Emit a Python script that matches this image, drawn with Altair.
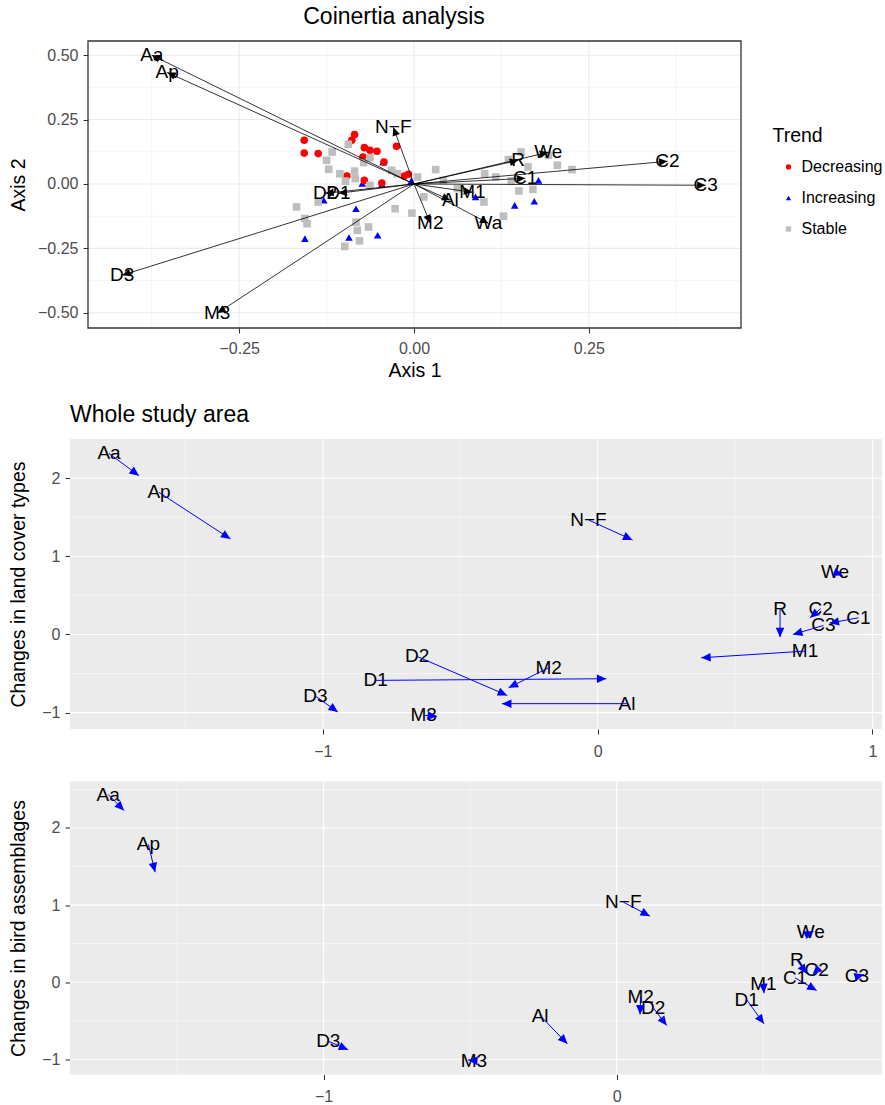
import math
import altair as alt
import pandas as pd

FONT = "Liberation Sans"
ARROW = "M0,0L-0.9,2L0.9,2Z"   # arrowhead with its tip at the data point

# ---------------- panel 1: coinertia analysis ----------------
var_labels = ["Aa", "Ap", "N\u2212F", "D1", "D2", "D3", "M3", "M2", "Al", "M1", "Wa", "R", "We", "C1", "C2", "C3"]
var_x = [-0.375, -0.353, -0.0296, -0.108, -0.127, -0.4175, -0.2815, 0.0233, 0.052, 0.0834, 0.1063, 0.149, 0.192, 0.159, 0.3625, 0.417]
var_y = [0.500, 0.433, 0.220, -0.036, -0.036, -0.354, -0.502, -0.1525, -0.063, -0.032, -0.1525, 0.092, 0.123, 0.022, 0.088, -0.005]

trend_levels = ["Decreasing", "Increasing", "Stable"]
trend_colors = ["#FF0000", "#0000FF", "#BEBEBE"]
trend_shapes = ["circle", "triangle-up", "square"]

dec_x = [-0.157, -0.157, -0.137, -0.085, -0.089, -0.071, -0.063, -0.053, -0.073, -0.043, -0.025, -0.096, -0.071, -0.046, -0.014, -0.008]
dec_y = [0.170, 0.120, 0.118, 0.192, 0.170, 0.141, 0.131, 0.127, 0.105, 0.085, 0.146, 0.031, 0.014, 0.004, 0.031, 0.038]
inc_x = [-0.044, -0.074, -0.046, -0.129, -0.083, -0.156, -0.093, -0.052, -0.004, 0.088, 0.144, 0.172, 0.178]
inc_y = [0.085, 0.002, -0.001, -0.063, -0.096, -0.212, -0.208, -0.199, 0.012, -0.050, -0.083, -0.067, 0.014]
sta_x = [-0.094, -0.117, -0.125, -0.122, -0.106, -0.085, -0.098, -0.084, -0.063, -0.063, -0.072, -0.032, -0.024, 0.005,
         -0.168, -0.156, -0.153, -0.137, -0.027, -0.003, -0.083, -0.081, -0.065, -0.078, -0.099, 0.014, 0.031, 0.042,
         0.101, 0.117, 0.128, 0.100, 0.135, 0.153, 0.163, 0.150, 0.170, 0.192, 0.205, 0.226, 0.139, 0.062]
sta_y = [0.154, 0.124, 0.092, 0.057, 0.040, 0.050, 0.011, 0.021, -0.005, 0.102, 0.083, 0.053, 0.040, 0.027,
         -0.089, -0.134, -0.154, -0.070, -0.096, -0.113, -0.148, -0.180, -0.167, -0.221, -0.242, -0.050, 0.056, 0.014,
         0.040, 0.027, -0.125, -0.070, 0.095, 0.124, 0.066, -0.027, -0.021, 0.111, 0.073, 0.056, 0.012, -0.018]

P1_X = [-0.4662, 0.4676]
P1_Y = [-0.559, 0.555]
P1_XTICKS = [-0.25, 0, 0.25]
P1_YTICKS = [-0.5, -0.25, 0, 0.25, 0.5]
P1_XMINOR = [-0.375, -0.125, 0.125, 0.375]
P1_YMINOR = [-0.375, -0.125, 0.125, 0.375]

# ---------------- panel 2: land cover changes ----------------
lc_labels = ["Aa", "Ap", "D2", "D1", "D3", "M3", "M2", "Al", "N\u2212F", "We", "R", "C2", "C1", "C3", "M1"]
lc_x0 = [-1.778, -1.596, -0.657, -0.808, -1.027, -0.633, -0.178, 0.107, -0.033, 0.864, 0.664, 0.812, 0.949, 0.822, 0.755]
lc_y0 = [2.315, 1.817, -0.281, -0.587, -0.788, -1.034, -0.426, -0.885, 1.465, 0.796, 0.328, 0.330, 0.213, 0.115, -0.213]
lc_x1 = [-1.669, -1.336, -0.329, 0.032, -0.945, -0.584, -0.324, -0.348, 0.127, 0.892, 0.664, 0.773, 0.844, 0.711, 0.377]
lc_y1 = [2.031, 1.222, -0.779, -0.566, -0.992, -1.047, -0.681, -0.885, 1.209, 0.753, -0.034, 0.213, 0.145, 0.000, -0.298]

P2_X = [-1.920, 1.035]
P2_Y = [-1.209, 2.50]
P2_XMINOR = [-1.5, -0.5, 0.5]
P2_YMINOR = [-0.5, 0.5, 1.5]

# ---------------- panel 3: bird assemblage changes ----------------
ba_labels = ["Aa", "Ap", "D3", "M3", "Al", "N\u2212F", "M2", "D2", "D1", "M1", "We", "R", "C2", "C1", "C3"]
ba_x0 = [-1.735, -1.598, -0.984, -0.487, -0.261, 0.023, 0.082, 0.125, 0.444, 0.501, 0.663, 0.615, 0.683, 0.609, 0.820]
ba_y0 = [2.434, 1.786, -0.765, -1.016, -0.432, 1.038, -0.195, -0.332, -0.228, -0.021, 0.645, 0.290, 0.152, 0.057, 0.074]
ba_x1 = [-1.681, -1.575, -0.916, -0.507, -0.168, 0.114, 0.080, 0.171, 0.503, 0.503, 0.672, 0.649, 0.669, 0.683, 0.844]
ba_y1 = [2.227, 1.427, -0.877, -1.009, -0.799, 0.856, -0.419, -0.562, -0.540, -0.143, 0.660, 0.109, 0.100, -0.108, 0.100]

P3_X = [-1.8655, 0.9058]
P3_Y = [-1.197, 2.603]
P3_XMINOR = [-1.5, -0.5, 0.5]
P3_YMINOR = [-0.5, 0.5, 1.5, 2.5]

P23_XTICKS = [-1, 0, 1]
P23_YTICKS = [-1, 0, 1, 2]

# ---------------- layout ----------------
CANVAS_W, CANVAS_H = 885, 1105
LEFT, TOP = 70, 41
P1_W, P1_H, P1_INSET = 671, 287, 18
P2_W, P2_H = 812, 290
P3_W, P3_H = 812, 293
SPACING_OUT = 23
SPACING_IN = 19.5
YTITLE_X = 18.5
LEG_X, LEG_Y = 772.5, 127

GRID_MAJ, GRID_MIN = 1.07, 0.53


def head_angles(x0, y0, x1, y1, kx, ky):
    return [math.degrees(math.atan2((b - a) * kx, (d - c) * ky)) % 360
            for a, c, b, d in zip(x0, y0, x1, y1)]


ANG = lambda: alt.Angle("ang", type="quantitative", scale=alt.Scale(domain=[0, 360], range=[0, 360]))

# ---------------- panel 1 chart ----------------
kx1 = (P1_W - P1_INSET) / (P1_X[1] - P1_X[0])
ky1 = P1_H / (P1_Y[1] - P1_Y[0])
df_var = pd.DataFrame({"label": var_labels, "x": var_x, "y": var_y})
df_var["x0"] = 0.0
df_var["y0"] = 0.0
df_var["ang"] = head_angles(df_var["x0"], df_var["y0"], df_var["x"], df_var["y"], kx1, ky1)

df_pts = pd.concat([
    pd.DataFrame({"x": inc_x, "y": inc_y, "Trend": "Increasing"}),
    pd.DataFrame({"x": dec_x, "y": dec_y, "Trend": "Decreasing"}),
    pd.DataFrame({"x": sta_x, "y": sta_y, "Trend": "Stable"}),
], ignore_index=True)

sc1x = alt.Scale(domain=P1_X, range=[P1_INSET, P1_W], nice=False, zero=False)
sc1y = alt.Scale(domain=P1_Y, nice=False, zero=False)
ax1x = alt.Axis(title="Axis 1", values=P1_XTICKS, format=".2f", grid=False, domain=False,
                labelPadding=7, titleX=(P1_INSET + P1_W) / 2, titleY=42, titleBaseline="middle")
ax1y = alt.Axis(title="Axis 2", values=P1_YTICKS, format=".2f", grid=False, domain=False,
                offset=-P1_INSET, labelPadding=5, titleX=YTITLE_X - (LEFT + P1_INSET),
                titleY=P1_H / 2, titleBaseline="middle")


def X1(f):
    return alt.X(f, type="quantitative", scale=sc1x, axis=ax1x)


def Y1(f):
    return alt.Y(f, type="quantitative", scale=sc1y, axis=ax1y)


leg = alt.Legend(title="Trend", orient="none", legendX=LEG_X - LEFT, legendY=LEG_Y - TOP, padding=0,
                 titleFontSize=19.5, titleFont=FONT, titleColor="black", titleFontWeight="normal",
                 labelFontSize=16, labelFont=FONT, labelColor="black", symbolSize=28,
                 symbolOffset=8, labelOffset=5, rowPadding=15, titlePadding=12.5, symbolStrokeWidth=0)

g1_vmaj = alt.Chart(pd.DataFrame({"v": P1_XTICKS})).mark_rule(color="#EBEBEB", strokeWidth=GRID_MAJ).encode(
    x=X1("v"), y=alt.value(0), y2=alt.value("height"))
g1_vmin = alt.Chart(pd.DataFrame({"v": P1_XMINOR})).mark_rule(color="#EBEBEB", strokeWidth=GRID_MIN).encode(
    x=X1("v"), y=alt.value(0), y2=alt.value("height"))
g1_hmaj = alt.Chart(pd.DataFrame({"v": P1_YTICKS})).mark_rule(color="#EBEBEB", strokeWidth=GRID_MAJ).encode(
    y=Y1("v"), x=alt.value(P1_INSET), x2=alt.value("width"))
g1_hmin = alt.Chart(pd.DataFrame({"v": P1_YMINOR})).mark_rule(color="#EBEBEB", strokeWidth=GRID_MIN).encode(
    y=Y1("v"), x=alt.value(P1_INSET), x2=alt.value("width"))

pts = alt.Chart(df_pts).mark_point(filled=True, size=58, opacity=1, strokeWidth=0).encode(
    x=X1("x"), y=Y1("y"),
    color=alt.Color("Trend:N", scale=alt.Scale(domain=trend_levels, range=trend_colors), legend=leg),
    shape=alt.Shape("Trend:N", scale=alt.Scale(domain=trend_levels, range=trend_shapes), legend=leg),
)
v_lines = alt.Chart(df_var).mark_rule(color="black", strokeWidth=0.8).encode(
    x=X1("x0"), y=Y1("y0"), x2="x", y2="y")
v_text = alt.Chart(df_var).mark_text(font=FONT, fontSize=19, color="black", baseline="middle",
                                     align="center").encode(x=X1("x"), y=Y1("y"), text="label")
v_heads = alt.Chart(df_var).mark_point(shape=ARROW, filled=True, size=72, color="black", opacity=1,
                                       strokeWidth=0).encode(x=X1("x"), y=Y1("y"), angle=ANG())
border = alt.Chart(pd.DataFrame({"k": [0]})).mark_rect(fillOpacity=0, stroke="#333333", strokeWidth=1.3).encode(
    x=alt.value(P1_INSET), x2=alt.value("width"), y=alt.value(0), y2=alt.value("height"))

p1 = alt.layer(g1_vmaj, g1_vmin, g1_hmaj, g1_hmin, pts, v_lines, v_text, v_heads, border).properties(
    width=P1_W, height=P1_H,
    title=alt.TitleParams("Coinertia analysis", anchor="middle", frame="group", dx=-11.5, offset=11,
                          fontSize=23, font=FONT, fontWeight="normal", color="black"),
)


# ---------------- panels 2 and 3 ----------------
def arrow_panel(labels, x0, y0, x1, y1, xdom, ydom, w, h, xminor, yminor, ytitle, title=None):
    kx = w / (xdom[1] - xdom[0])
    ky = h / (ydom[1] - ydom[0])
    df = pd.DataFrame({"label": labels, "x0": x0, "y0": y0, "x1": x1, "y1": y1})
    df["ang"] = head_angles(x0, y0, x1, y1, kx, ky)
    sx = alt.Scale(domain=xdom, nice=False, zero=False)
    sy = alt.Scale(domain=ydom, nice=False, zero=False)
    axx = alt.Axis(values=P23_XTICKS, format="d", domain=False, grid=False, labelPadding=9, title=None)
    axy = alt.Axis(values=P23_YTICKS, format="d", domain=False, grid=False, labelPadding=5, title=ytitle,
                   titleX=YTITLE_X - LEFT, titleY=h / 2, titleBaseline="middle")

    def X(f):
        return alt.X(f, type="quantitative", scale=sx, axis=axx)

    def Y(f):
        return alt.Y(f, type="quantitative", scale=sy, axis=axy)

    bg = alt.Chart(pd.DataFrame({"k": [0]})).mark_rect(color="#EBEBEB").encode(
        x=alt.value(0), x2=alt.value("width"), y=alt.value(0), y2=alt.value("height"))
    vmin = alt.Chart(pd.DataFrame({"v": xminor})).mark_rule(color="white", strokeWidth=GRID_MIN).encode(
        x=X("v"), y=alt.value(0), y2=alt.value("height"))
    hmin = alt.Chart(pd.DataFrame({"v": yminor})).mark_rule(color="white", strokeWidth=GRID_MIN).encode(
        y=Y("v"), x=alt.value(0), x2=alt.value("width"))
    vmaj = alt.Chart(pd.DataFrame({"v": P23_XTICKS})).mark_rule(color="white", strokeWidth=GRID_MAJ).encode(
        x=X("v"), y=alt.value(0), y2=alt.value("height"))
    hmaj = alt.Chart(pd.DataFrame({"v": P23_YTICKS})).mark_rule(color="white", strokeWidth=GRID_MAJ).encode(
        y=Y("v"), x=alt.value(0), x2=alt.value("width"))
    txt = alt.Chart(df).mark_text(font=FONT, fontSize=19, color="black", baseline="middle",
                                  align="center").encode(x=X("x0"), y=Y("y0"), text="label")
    lines = alt.Chart(df).mark_rule(color="#0000FF", strokeWidth=1.0).encode(
        x=X("x0"), y=Y("y0"), x2="x1", y2="y1")
    heads = alt.Chart(df).mark_point(shape=ARROW, filled=True, size=90, color="#0000FF", opacity=1,
                                     strokeWidth=0).encode(x=X("x1"), y=Y("y1"), angle=ANG())
    props = {"width": w, "height": h}
    if title is not None:
        props["title"] = alt.TitleParams(title, anchor="start", frame="group", offset=11, fontSize=23,
                                         font=FONT, fontWeight="normal", color="black")
    return alt.layer(bg, vmin, hmin, vmaj, hmaj, txt, lines, heads).properties(**props)


p2 = arrow_panel(lc_labels, lc_x0, lc_y0, lc_x1, lc_y1, P2_X, P2_Y, P2_W, P2_H, P2_XMINOR, P2_YMINOR,
                 "Changes in land cover types", title="Whole study area")
p3 = arrow_panel(ba_labels, ba_x0, ba_y0, ba_x1, ba_y1, P3_X, P3_Y, P3_W, P3_H, P3_XMINOR, P3_YMINOR,
                 "Changes in bird assemblages")

chart = alt.vconcat(p1, alt.vconcat(p2, p3, spacing=SPACING_IN), spacing=SPACING_OUT).properties(
    autosize=alt.AutoSizeParams(type="none"),
    padding={"left": LEFT, "top": TOP, "right": CANVAS_W - LEFT, "bottom": CANVAS_H - TOP},
).configure(font=FONT).configure_view(stroke="transparent").configure_axis(
    labelFont=FONT, titleFont=FONT, labelFontSize=16, titleFontSize=19.5, labelColor="#4D4D4D",
    titleColor="black", titleFontWeight="normal", tickColor="#333333", tickWidth=1.07, tickSize=5,
).configure_title(font=FONT)

chart.save("out.html", embed_options={"renderer": "svg", "actions": False})
